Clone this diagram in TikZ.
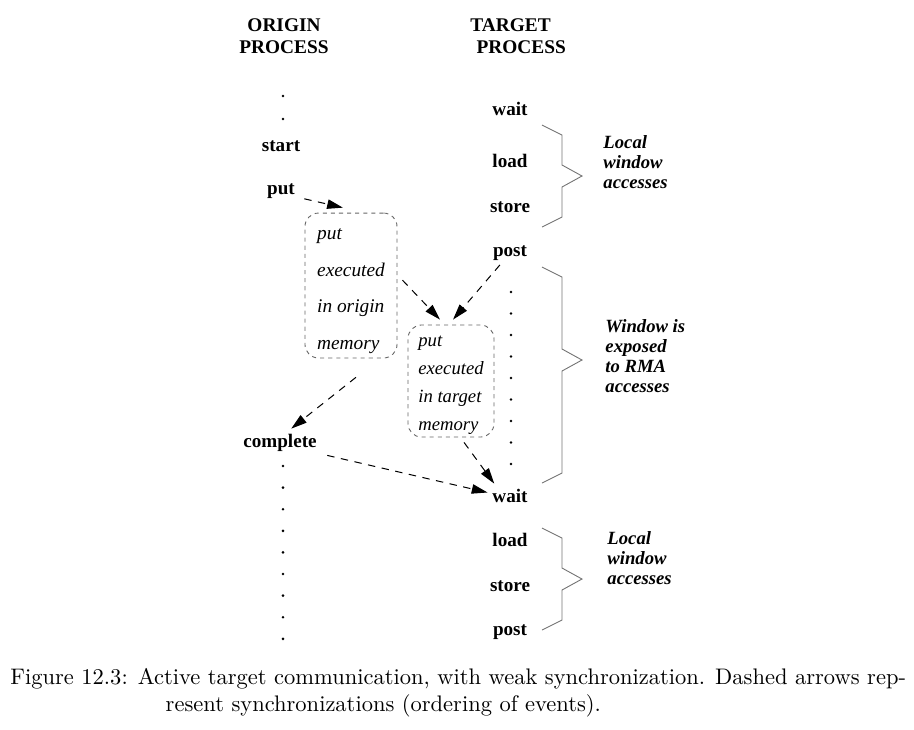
\documentclass[tikz,border=0pt]{standalone}
\usepackage{fontspec}
\newfontfamily\figfont{Liberation Serif}
\usetikzlibrary{arrows.meta, positioning}

\begin{document}
\begin{tikzpicture}[
    x=0.4444pt, y=-0.4444pt,
    >={Triangle[length=7pt, width=4.2pt]},
    event/.style={font=\figfont\fontsize{8.5}{10}\selectfont\bfseries,
                  inner sep=2pt, text height=6pt, text depth=1.5pt},
    header/.style={font=\figfont\fontsize{8.6}{9.8}\selectfont\bfseries,
                   inner sep=0pt},
    remark/.style={font=\figfont\fontsize{8.3}{8.9}\selectfont\bfseries\itshape,
                   align=left, anchor=west, inner sep=0pt},
    membox/.style={draw=black!60, dash pattern=on 1.8pt off 1.8pt,
                   rounded corners=6pt, align=left, inner sep=0pt},
    sync/.style={->, dash pattern=on 3.3pt off 2.9pt, line width=0.45pt},
    bracket/.style={draw=black!55, line width=0.4pt}
  ]
  \useasboundingbox (0,0) rectangle (914,729);

  % origin side
  \node[header, align=center] (ohead) at (284,36) {ORIGIN\\PROCESS};
  \foreach \y in {96,119} \fill (283,\y) circle (0.65pt);
  \node[event] (start) at (281,146) {start};
  \node[event, below=7.6pt of start] (put) {put};
  \node[event] (complete) at (280,442) {complete};
  \foreach \i in {0,...,8} \fill (283,466+21.6*\i) circle (0.65pt);

  \node[membox, minimum width=40.9pt, minimum height=64.4pt,
        font=\figfont\itshape\fontsize{8.6}{16.2}\selectfont] (origmem)
    at (351,285.5) {\rule{0pt}{10pt}put\\executed\\in origin\\memory};

  % target side
  \node[header, align=left, anchor=west] (thead) at (470,36)
    {TARGET\\\hspace*{2.7pt}PROCESS};
  \node[event] (wait1) at (510,110) {wait};
  \node[event, below=11.6pt of wait1] (load1) {load};
  \node[event, below=8pt of load1] (store1) {store};
  \node[event, below=7.6pt of store1] (post1) {post};
  \foreach \i in {0,...,8} \fill (511,292+21.5*\i) circle (0.65pt);
  \node[event] (wait2) at (510,497) {wait};
  \node[event, below=8pt of wait2] (load2) {load};
  \node[event, below=8pt of load2] (store2) {store};
  \node[event, below=7.6pt of store2] (post2) {post};

  \node[membox, minimum width=38.2pt, minimum height=49.8pt,
        font=\figfont\itshape\fontsize{8.3}{12.4}\selectfont] (targmem)
    at (451,381) {\rule{0pt}{8.6pt}put\\executed\\in target\\memory};

  % braces and remarks
  \foreach \t/\m/\b in {125/176/227, 267/360/483, 528/579/630}
    \draw[bracket] (542,\t) -- (562,\t+10) -- (562,\m-11) -- (582,\m)
      -- (562,\m+11) -- (562,\b-10) -- (542,\b);
  \node[remark] (note1) at (603,162) {Local\\window\\accesses};
  \node[remark] (note2) at (605,356.5) {Window is\\exposed\\to RMA\\accesses};
  \node[remark] (note3) at (607,558.5) {Local\\window\\accesses};

  % synchronizations
  \draw[sync] ([xshift=2pt, yshift=2pt]put.south east)
    -- ([xshift=-3.6pt, yshift=2.2pt]origmem.north);
  \draw[sync] ([xshift=2.2pt, yshift=2.4pt]origmem.east)
    -- ([xshift=-4.9pt, yshift=2.2pt]targmem.north);
  \draw[sync] ([xshift=-4.5pt]post1.south)
    -- ([xshift=0.9pt, yshift=2.2pt]targmem.north);
  \draw[sync] ([xshift=2.2pt, yshift=-8.4pt]origmem.south)
    -- ([xshift=5pt]complete.north);
  \draw[sync] ([xshift=2.5pt]complete.south east) -- ([yshift=2pt]wait2.west);
  \draw[sync] ([xshift=5.8pt, yshift=-2.2pt]targmem.south)
    -- ([xshift=-7pt]wait2.north);

  \node[anchor=north west, inner sep=0pt, align=left,
        font=\fontsize{10}{12}\selectfont] (caption) at (10,668)
    {\hbox to 398pt{Figure 12.3: Active target communication, with weak
      synchronization. Dashed arrows rep-}\\
     \hspace*{69pt}resent synchronizations (ordering of events).};
\end{tikzpicture}
\end{document}
